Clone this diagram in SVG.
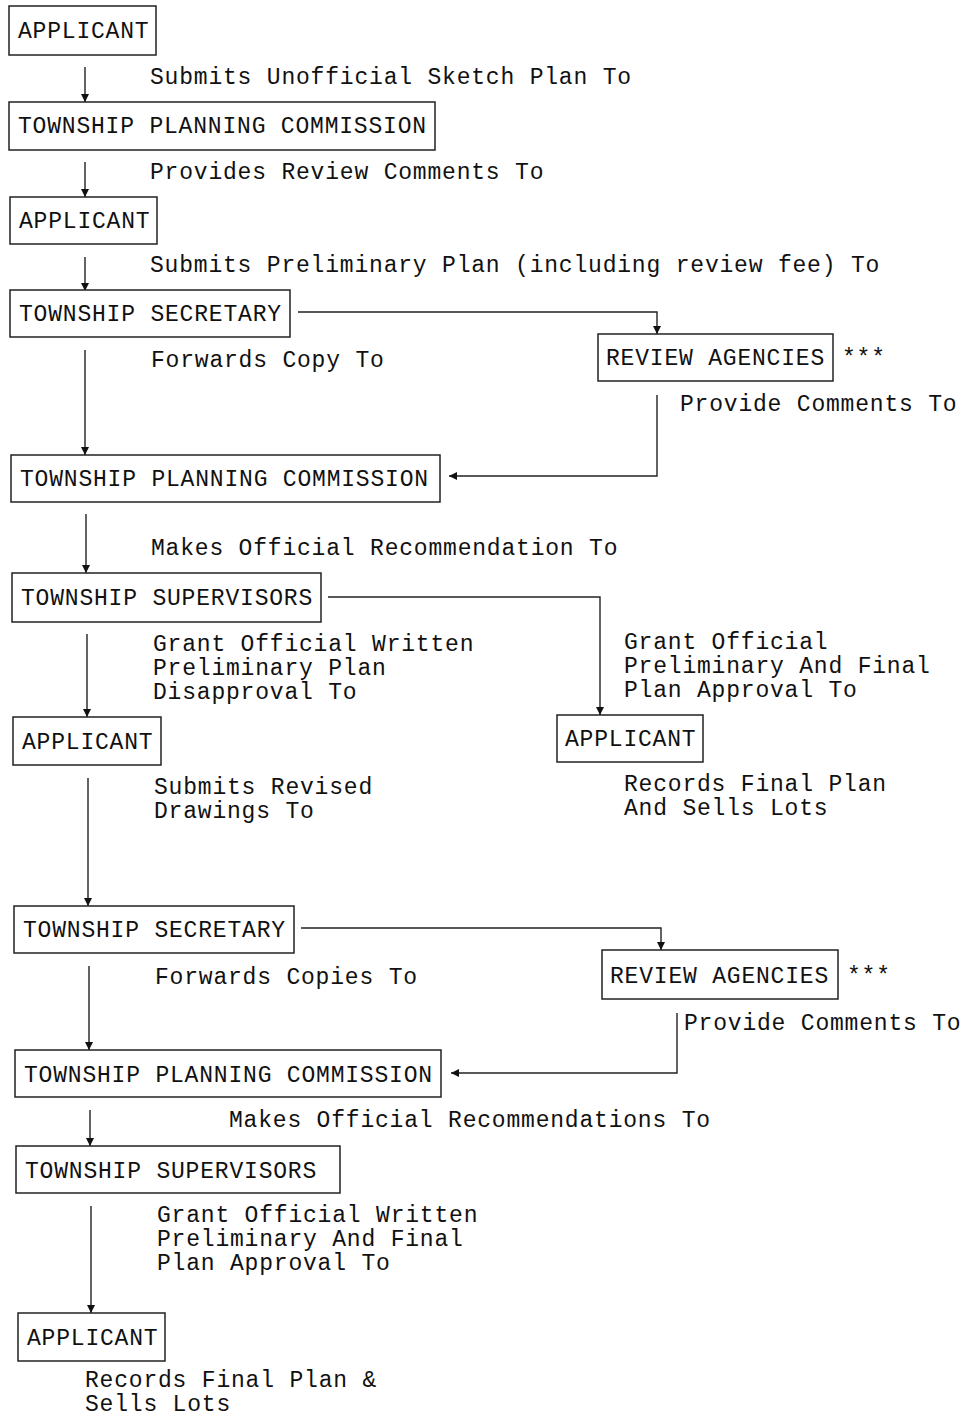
<svg xmlns="http://www.w3.org/2000/svg" width="966" height="1418" viewBox="0 0 966 1418">
<style>
text{font-family:"Liberation Mono","Courier New",monospace;font-size:23px;letter-spacing:0.8px;fill:#111}
.box{fill:#fff;stroke:#222;stroke-width:1.5}
.c{fill:none;stroke:#222;stroke-width:1.4}
</style>
<defs>
<marker id="ah" viewBox="0 0 8 8" refX="8" refY="4" markerWidth="8" markerHeight="8" markerUnits="userSpaceOnUse" orient="auto"><path d="M0,0 L8,4 L0,8 z" fill="#111"/></marker>
</defs>
<rect width="966" height="1418" fill="#fff"/>
<g id="connectors">
<path class="c" d="M85,67 V102" marker-end="url(#ah)"/>
<path class="c" d="M85,162 V197" marker-end="url(#ah)"/>
<path class="c" d="M85,257 V291" marker-end="url(#ah)"/>
<path class="c" d="M298,312 H657 V334" marker-end="url(#ah)"/>
<path class="c" d="M657,395 V476 H449" marker-end="url(#ah)"/>
<path class="c" d="M85,350 V455" marker-end="url(#ah)"/>
<path class="c" d="M86,514 V573" marker-end="url(#ah)"/>
<path class="c" d="M328,597 H600 V715" marker-end="url(#ah)"/>
<path class="c" d="M87,634 V717" marker-end="url(#ah)"/>
<path class="c" d="M88,778 V906" marker-end="url(#ah)"/>
<path class="c" d="M301,928 H661 V950" marker-end="url(#ah)"/>
<path class="c" d="M677,1013 V1073 H451" marker-end="url(#ah)"/>
<path class="c" d="M89,966 V1050" marker-end="url(#ah)"/>
<path class="c" d="M90,1110 V1146" marker-end="url(#ah)"/>
<path class="c" d="M91,1206 V1313" marker-end="url(#ah)"/>
</g>
<g id="labels">
<text x="150" y="84">Submits Unofficial Sketch Plan To</text>
<text x="150" y="179">Provides Review Comments To</text>
<text x="150" y="272">Submits Preliminary Plan (including review fee) To</text>
<text x="151" y="367">Forwards Copy To</text>
<text x="680" y="411">Provide Comments To</text>
<text x="151" y="555">Makes Official Recommendation To</text>
<text x="153" y="651">Grant Official Written</text>
<text x="153" y="675">Preliminary Plan</text>
<text x="153" y="699">Disapproval To</text>
<text x="624" y="649">Grant Official</text>
<text x="624" y="673">Preliminary And Final</text>
<text x="624" y="697">Plan Approval To</text>
<text x="624" y="791">Records Final Plan</text>
<text x="624" y="815">And Sells Lots</text>
<text x="154" y="794">Submits Revised</text>
<text x="154" y="818">Drawings To</text>
<text x="155" y="984">Forwards Copies To</text>
<text x="684" y="1030">Provide Comments To</text>
<text x="229" y="1127">Makes Official Recommendations To</text>
<text x="157" y="1222">Grant Official Written</text>
<text x="157" y="1246">Preliminary And Final</text>
<text x="157" y="1270">Plan Approval To</text>
<text x="85" y="1387">Records Final Plan &amp;</text>
<text x="85" y="1411">Sells Lots</text>
</g>
<g id="applicant1"><rect class="box" x="9" y="6" width="147" height="49"/><text x="18" y="38">APPLICANT</text></g>
<g id="tpc1"><rect class="box" x="9" y="102" width="426" height="48"/><text x="18" y="133">TOWNSHIP PLANNING COMMISSION</text></g>
<g id="applicant2"><rect class="box" x="10" y="197" width="147" height="47"/><text x="19" y="228">APPLICANT</text></g>
<g id="secretary1"><rect class="box" x="10" y="290" width="280" height="47"/><text x="19" y="321">TOWNSHIP SECRETARY</text></g>
<g id="review1"><rect class="box" x="598" y="334" width="235" height="47"/><text x="606" y="365">REVIEW AGENCIES</text><text x="842" y="365">***</text></g>
<g id="tpc2"><rect class="box" x="11" y="455" width="429" height="47"/><text x="20" y="486">TOWNSHIP PLANNING COMMISSION</text></g>
<g id="supervisors1"><rect class="box" x="12" y="573" width="309" height="49"/><text x="21" y="605">TOWNSHIP SUPERVISORS</text></g>
<g id="applicant-right"><rect class="box" x="557" y="715" width="146" height="47"/><text x="565" y="746">APPLICANT</text></g>
<g id="applicant3"><rect class="box" x="13" y="717" width="148" height="48"/><text x="22" y="749">APPLICANT</text></g>
<g id="secretary2"><rect class="box" x="14" y="906" width="280" height="47"/><text x="23" y="937">TOWNSHIP SECRETARY</text></g>
<g id="review2"><rect class="box" x="602" y="950" width="236" height="49"/><text x="610" y="983">REVIEW AGENCIES</text><text x="847" y="983">***</text></g>
<g id="tpc3"><rect class="box" x="15" y="1050" width="426" height="47"/><text x="24" y="1082">TOWNSHIP PLANNING COMMISSION</text></g>
<g id="supervisors2"><rect class="box" x="16" y="1146" width="324" height="47"/><text x="25" y="1178">TOWNSHIP SUPERVISORS</text></g>
<g id="applicant4"><rect class="box" x="18" y="1313" width="147" height="48"/><text x="27" y="1345">APPLICANT</text></g>
</svg>
